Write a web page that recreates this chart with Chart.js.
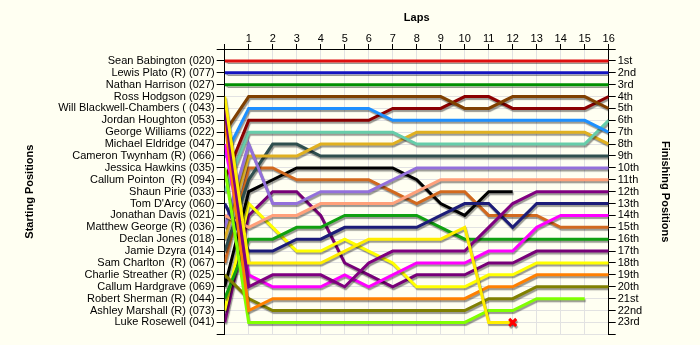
<!DOCTYPE html>
<html>
<head>
<meta charset="utf-8">
<script src="https://cdn.jsdelivr.net/npm/chart.js@4/dist/chart.umd.min.js"></script>
<style>
  html, body { margin: 0; padding: 0; background: #fffff2; }
  #wrap { width: 700px; height: 345px; }
</style>
</head>
<body>
<div id="wrap"><canvas id="lapChart" width="700" height="345"></canvas></div>
<script>
// Drivers in grid order (starting position 1..23)
const driverNames = [
    'Sean Babington (020)', 'Lewis Plato (R) (077)', 'Nathan Harrison (027)',
    'Ross Hodgson (029)', 'Will Blackwell-Chambers ( (043)', 'Jordan Houghton (053)',
    'George Williams (022)', 'Michael Eldridge (047)', 'Cameron Twynham (R) (066)',
    'Jessica Hawkins (035)', 'Callum Pointon  (R) (094)', 'Shaun Pirie (033)',
    "Tom D'Arcy (060)", 'Jonathan Davis (021)', 'Matthew George (R) (036)',
    'Declan Jones (018)', 'Jamie Dzyra (014)', 'Sam Charlton  (R) (067)',
    'Charlie Streather (R) (025)', 'Callum Hardgrave (069)', 'Robert Sherman (R) (044)',
    'Ashley Marshall (R) (073)', 'Luke Rosewell (041)'
];

const finishLabels = [
    '1st', '2nd', '3rd', '4th', '5th', '6th', '7th', '8th', '9th', '10th', '11th', '12th',
    '13th', '14th', '15th', '16th', '17th', '18th', '19th', '20th', '21st', '22nd', '23rd'
];

const lapNumbers = [0, 1, 2, 3, 4, 5, 6, 7, 8, 9, 10, 11, 12, 13, 14, 15, 16];

// Position of each driver at the end of every lap (index 0 = grid), null = out
const lapPositions = [
    [1, 1, 1, 1, 1, 1, 1, 1, 1, 1, 1, 1, 1, 1, 1, 1, 1],
    [2, 2, 2, 2, 2, 2, 2, 2, 2, 2, 2, 2, 2, 2, 2, 2, 2],
    [3, 3, 3, 3, 3, 3, 3, 3, 3, 3, 3, 3, 3, 3, 3, 3, 3],
    [4, 18, 18, 18, 18, 17, 16, 16, 16, 16, 15, 23, 23, null, null, null, null],
    [5, 20, 19, 19, 19, 20, 18, 17, 17, 17, 17, 15, 13, 12, 12, 12, 12],
    [6, 22, 21, 21, 21, 21, 21, 21, 21, 21, 21, 20, 20, 19, 19, 19, 19],
    [7, 4, 4, 4, 4, 4, 4, 4, 4, 4, 5, 5, 4, 4, 4, 4, 5],
    [8, 19, 20, 20, 20, 19, 20, 19, 18, 18, 18, 17, 17, 15, 14, 14, 14],
    [9, 5, 5, 5, 5, 5, 5, 6, 6, 6, 6, 6, 6, 6, 6, 6, 7],
    [10, 23, 23, 23, 23, 23, 23, 23, 23, 23, 23, 22, 22, 21, 21, 21, null],
    [11, 6, 6, 6, 6, 6, 6, 5, 5, 5, 4, 4, 5, 5, 5, 5, 4],
    [12, 7, 7, 7, 7, 7, 7, 7, 8, 8, 8, 8, 8, 8, 8, 8, 6],
    [13, 17, 17, 16, 16, 15, 15, 15, 15, 14, 13, 13, 15, 13, 13, 13, 13],
    [14, 15, 14, 14, 13, 13, 13, 13, 12, 11, 11, 11, 11, 11, 11, 11, 11],
    [15, 8, 13, 13, 12, 12, 12, 11, 10, 10, 10, 10, 10, 10, 10, 10, 10],
    [16, 9, 9, 9, 8, 8, 8, 8, 7, 7, 7, 7, 7, 7, 7, 7, 8],
    [17, 11, 8, 8, 9, 9, 9, 9, 9, 9, 9, 9, 9, 9, 9, 9, 9],
    [18, 10, 10, 11, 11, 11, 11, 12, 13, 12, 12, 14, 14, 14, 15, 15, 15],
    [19, 21, 22, 22, 22, 22, 22, 22, 22, 22, 22, 21, 21, 20, 20, 20, 20],
    [20, 12, 11, 10, 10, 10, 10, 10, 11, 13, 14, 12, 12, null, null, null, null],
    [21, 16, 16, 15, 15, 14, 14, 14, 14, 15, 16, 16, 16, 16, 16, 16, 16],
    [22, 13, 15, 17, 17, 16, 17, 18, 20, 20, 20, 19, 19, 18, 18, 18, 18],
    [23, 14, 12, 12, 14, 18, 19, 20, 19, 19, 19, 18, 18, 17, 17, 17, 17]
];

// lap where a car retired with a crash marker (driver index -> lap)
const crashLaps = { 3: 12 };

const lineColours = [
    '#e01010', '#1414c0', '#009000', '#ffee00', '#800080', '#ff8000',
    '#804000', '#ff00ff', '#1e90ff', '#80ff00', '#8b0000', '#66cdaa',
    '#1c1c78', '#ffa07a', '#9370db', '#e0b020', '#2f4f4f', '#d2691e',
    '#808000', '#000000', '#10a010', '#ffff00', '#780078'
];

const datasets = lapPositions.map((row, i) => ({
    label: driverNames[i],
    data: row.map((pos, k) => ({ x: lapNumbers[k], y: pos })),
    borderColor: lineColours[i],
    borderWidth: 3,
    tension: 0,
    fill: false,
    spanGaps: false,
    pointRadius: c => (crashLaps[i] === c.dataIndex ? 5 : 0),
    pointStyle: 'crossRot',
    pointBorderColor: '#ff0000',
    pointBorderWidth: 3
}));

// soft drop shadow under every line
const lineShadow = {
    id: 'lineShadow',
    beforeDatasetDraw(chart) {
        const c = chart.ctx;
        c.save();
        c.shadowColor = 'rgba(0,0,0,0.4)';
        c.shadowOffsetX = 1;
        c.shadowOffsetY = 2;
        c.shadowBlur = 1;
    },
    afterDatasetDraw(chart) {
        chart.ctx.restore();
    }
};

const paintBackground = {
    id: 'paintBackground',
    beforeDraw(chart) {
        const c = chart.ctx;
        c.save();
        c.fillStyle = '#fffff2';
        c.fillRect(0, 0, chart.width, chart.height);
        c.restore();
    }
};

const labelFont = { family: 'Liberation Sans, Arial, sans-serif', size: 11 };
const titleFont = { family: 'Liberation Sans, Arial, sans-serif', size: 11, weight: 'bold' };
const gridStyle = { color: '#e2e2e2', tickColor: '#000', tickLength: 8, lineWidth: 1 };

const posAxis = (side, names) => ({
    type: 'linear',
    position: side,
    min: 0,
    max: 24,
    reverse: true,
    grid: { ...gridStyle, drawOnChartArea: side === 'left', tickLength: side === 'left' ? 8 : 7 },
    border: { color: '#000', width: 1 },
    ticks: {
        stepSize: 1,
        autoSkip: false,
        padding: 2,
        color: '#000',
        font: labelFont,
        callback: v => names[v - 1] || ''
    },
    title: {
        display: true,
        text: side === 'left' ? 'Starting Positions' : 'Finishing Positions',
        color: '#000',
        font: titleFont
    },
    afterFit: s => { s.width = side === 'left' ? 205.3 : 66.9; }
});

new Chart(document.getElementById('lapChart'), {
    type: 'line',
    data: { datasets },
    plugins: [paintBackground, lineShadow],
    options: {
        responsive: false,
        animation: false,
        layout: { padding: { left: 19.4, right: 24.4, top: 7, bottom: 10.7 } },
        plugins: {
            legend: { display: false },
            tooltip: { enabled: false }
        },
        scales: {
            x: {
                type: 'linear',
                position: 'top',
                min: 0,
                max: 16,
                grid: { ...gridStyle, tickLength: 5 },
                border: { color: '#000', width: 1 },
                ticks: {
                    stepSize: 1,
                    padding: -2,
                    color: '#000',
                    font: labelFont,
                    callback: v => (v === 0 ? '' : v)
                },
                title: { display: true, text: 'Laps', color: '#000', font: titleFont },
                afterFit: s => { s.height = 42; }
            },
            y: posAxis('left', driverNames),
            y2: posAxis('right', finishLabels)
        }
    }
});
</script>
</body>
</html>
